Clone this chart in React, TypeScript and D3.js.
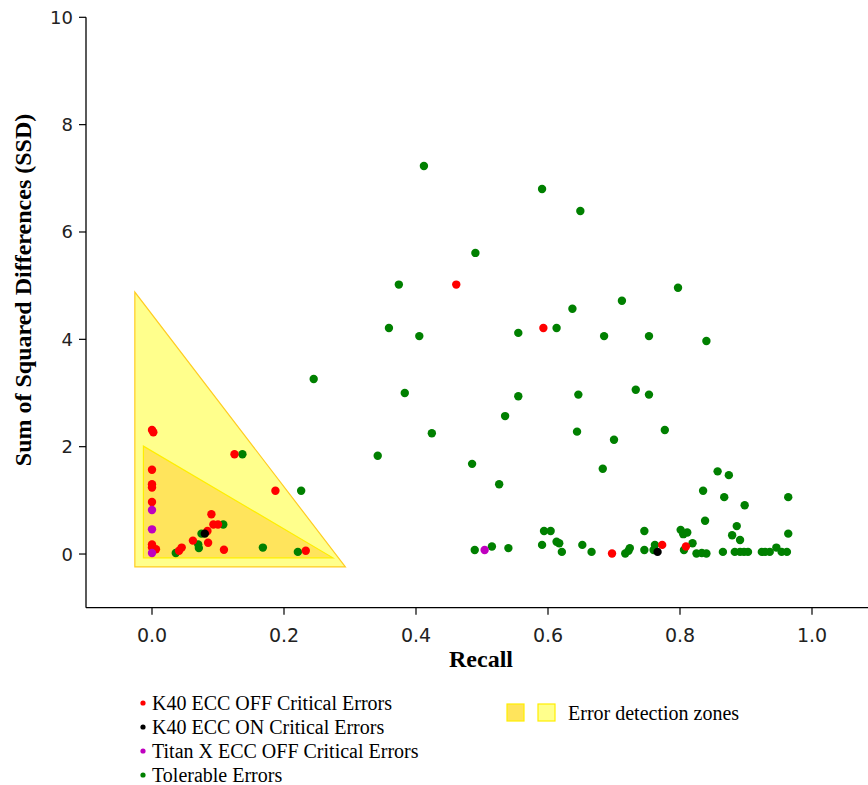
import React from 'react'
import * as d3 from 'd3'

// K40 ECC OFF critical errors (red)
const k40OffRecall = [0.0, 0.002, 0.125, 0.187, 0.0, 0.0, 0.0, 0.0, 0.0, 0.006, 0.0, 0.09, 0.093, 0.1, 0.084, 0.062, 0.085, 0.109, 0.045, 0.041, 0.233, 0.461, 0.593, 0.697, 0.773, 0.809]
const k40OffSSD = [2.31, 2.27, 1.86, 1.18, 1.57, 1.3, 1.24, 0.97, 0.18, 0.09, 0.12, 0.74, 0.55, 0.55, 0.43, 0.25, 0.21, 0.08, 0.12, 0.06, 0.06, 5.02, 4.21, 0.01, 0.17, 0.14]

// K40 ECC ON critical errors (black)
const k40OnRecall = [0.08, 0.766]
const k40OnSSD = [0.38, 0.04]

// Titan X ECC OFF critical errors (magenta)
const titanRecall = [0.0, 0.0, 0.0, 0.504]
const titanSSD = [0.82, 0.46, 0.02, 0.075]

// tolerable errors (green)
const tolRecall = [
  0.137, 0.245, 0.226, 0.108, 0.075, 0.07, 0.071, 0.036, 0.168, 0.221,
  0.412, 0.591, 0.649, 0.49, 0.374, 0.797, 0.712, 0.637, 0.359, 0.613,
  0.555, 0.405, 0.685, 0.753, 0.84, 0.383, 0.555, 0.646, 0.733, 0.753,
  0.535, 0.424, 0.644, 0.7, 0.777, 0.342, 0.485, 0.683, 0.526, 0.857,
  0.874, 0.835, 0.867, 0.898, 0.964, 0.838, 0.886, 0.879, 0.891, 0.964,
  0.489, 0.515, 0.54, 0.594, 0.604, 0.591, 0.613, 0.617, 0.621, 0.652,
  0.666, 0.717, 0.724, 0.722, 0.746, 0.746, 0.76, 0.762, 0.801, 0.805,
  0.811, 0.806, 0.819, 0.825, 0.833, 0.84, 0.865, 0.883, 0.891, 0.897,
  0.903, 0.924, 0.929, 0.936, 0.946, 0.954, 0.962,
]
const tolSSD = [
  1.86, 3.26, 1.18, 0.55, 0.38, 0.18, 0.11, 0.02, 0.12, 0.04,
  7.23, 6.8, 6.39, 5.61, 5.02, 4.96, 4.72, 4.57, 4.21, 4.21,
  4.12, 4.06, 4.06, 4.06, 3.97, 3.0, 2.94, 2.97, 3.06, 2.97,
  2.57, 2.25, 2.28, 2.13, 2.31, 1.83, 1.68, 1.59, 1.3, 1.54,
  1.47, 1.18, 1.06, 0.91, 1.06, 0.62, 0.52, 0.35, 0.26, 0.38,
  0.075, 0.14, 0.11, 0.43, 0.43, 0.17, 0.23, 0.2, 0.04, 0.17,
  0.04, 0.01, 0.11, 0.06, 0.43, 0.075, 0.075, 0.17, 0.45, 0.37,
  0.4, 0.075, 0.2, 0.01, 0.02, 0.01, 0.04, 0.04, 0.04, 0.04,
  0.04, 0.04, 0.04, 0.04, 0.12, 0.04, 0.04,
]

// error detection zones (recall, ssd)
const outerZone = [[-0.026, 4.88], [-0.026, -0.24], [0.293, -0.24]]
const innerZone = [[-0.013, 2.01], [-0.013, -0.07], [0.274, -0.07]]

const xTicks = [0, 0.2, 0.4, 0.6, 0.8, 1.0]
const yTicks = [0, 2, 4, 6, 8, 10]

const series = [
  { name: 'Tolerable Errors', color: '#008000', xs: tolRecall, ys: tolSSD },
  { name: 'K40 ECC OFF Critical Errors', color: '#ff0000', xs: k40OffRecall, ys: k40OffSSD },
  { name: 'K40 ECC ON Critical Errors', color: '#000000', xs: k40OnRecall, ys: k40OnSSD },
  { name: 'Titan X ECC OFF Critical Errors', color: '#bf00bf', xs: titanRecall, ys: titanSSD },
]
const legendOrder = [1, 2, 3, 0]

const W = 868
const H = 785

export default function App() {
  const x = d3.scaleLinear().domain([-0.1, 1.1]).range([86, 878])
  const y = d3.scaleLinear().domain([-1, 10]).range([607.7, 17.3])
  const line = d3.line<number[]>().x((d) => x(d[0])).y((d) => y(d[1]))
  const tri = (pts: number[][]) => line(pts) + 'Z'
  const tickFont = 'DejaVu Sans, sans-serif'
  const serif = '"Liberation Serif", "Times New Roman", serif'

  return (
    <svg width={W} height={H} style={{ position: 'absolute', left: 0, top: 0, background: '#fff' }}>
      {/* zones */}
      <path d={tri(outerZone)} fill="#ffff8c" stroke="#ffcc22" strokeWidth={1.2} />
      <path d={tri(innerZone)} fill="#ffe45c" stroke="#ffee00" strokeWidth={1.2} />

      {/* points */}
      {series.map((s) => (
        <g key={s.name} fill={s.color}>
          {s.xs.map((v, i) => (
            <circle key={i} cx={x(v)} cy={y(s.ys[i])} r={4.2} />
          ))}
        </g>
      ))}

      {/* axes */}
      <line x1={x(-0.1)} x2={x(-0.1)} y1={y(10)} y2={y(-1)} stroke="#000" strokeWidth={1.3} />
      <line x1={x(-0.1)} x2={W} y1={y(-1)} y2={y(-1)} stroke="#000" strokeWidth={1.3} />
      {yTicks.map((t) => (
        <g key={t}>
          <line x1={x(-0.1) - 7} x2={x(-0.1)} y1={y(t)} y2={y(t)} stroke="#000" strokeWidth={1.2} />
          <text x={x(-0.1) - 13} y={y(t)} textAnchor="end" dominantBaseline="central" fontFamily={tickFont} fontSize={18} fill="#222">
            {t}
          </text>
        </g>
      ))}
      {xTicks.map((t) => (
        <g key={t}>
          <line x1={x(t)} x2={x(t)} y1={y(-1)} y2={y(-1) + 7} stroke="#000" strokeWidth={1.2} />
          <text x={x(t)} y={642} textAnchor="middle" fontFamily={tickFont} fontSize={19} fill="#222">
            {t.toFixed(1)}
          </text>
        </g>
      ))}
      <text x={481} y={667} textAnchor="middle" fontFamily={serif} fontWeight="bold" fontSize={24}>
        Recall
      </text>
      <text transform="translate(31,290) rotate(-90)" textAnchor="middle" fontFamily={serif} fontWeight="bold" fontSize={24}>
        Sum of Squared Differences (SSD)
      </text>

      {/* legend */}
      {legendOrder.map((si, i) => (
        <g key={si} transform={`translate(0,${703 + i * 24})`}>
          <circle cx={143} cy={0} r={2.6} fill={series[si].color} />
          <text x={152} y={0} dominantBaseline="central" fontFamily={serif} fontSize={20}>
            {series[si].name}
          </text>
        </g>
      ))}
      <rect x={507} y={704} width={17} height={17} fill="#ffe45c" stroke="#ffee00" strokeWidth={1.2} />
      <rect x={538} y={704} width={17} height={17} fill="#ffff8c" stroke="#ffee00" strokeWidth={1.2} />
      <text x={568} y={713} dominantBaseline="central" fontFamily={serif} fontSize={20}>
        Error detection zones
      </text>
    </svg>
  )
}
